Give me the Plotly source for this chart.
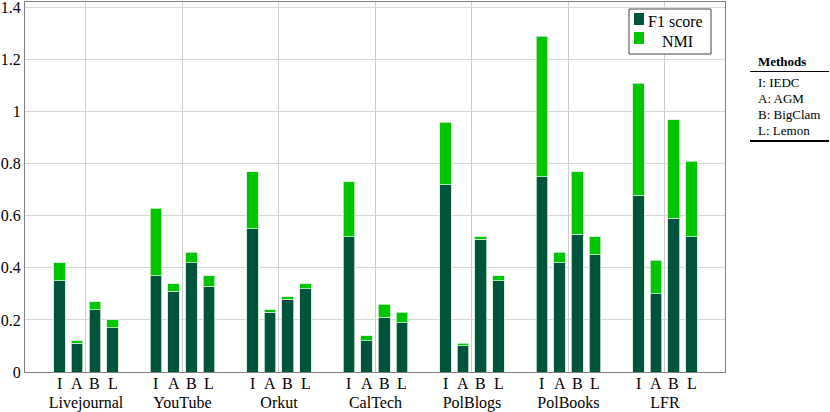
import plotly.graph_objects as go

# ---------------- data ----------------
datasets = ["Livejournal", "YouTube", "Orkut", "CalTech", "PolBlogs", "PolBooks", "LFR"]
method_letters = ["I", "A", "B", "L"]
method_names = ["I: IEDC", "A: AGM", "B: BigClam", "L: Lemon"]
series_names = ["F1 score", "NMI"]

f1_iedc = [0.35, 0.37, 0.55, 0.52, 0.72, 0.75, 0.68]
f1_agm = [0.11, 0.31, 0.23, 0.12, 0.10, 0.42, 0.30]
f1_bigclam = [0.24, 0.42, 0.28, 0.21, 0.51, 0.53, 0.59]
f1_lemon = [0.17, 0.33, 0.32, 0.19, 0.35, 0.45, 0.52]

nmi_iedc = [0.07, 0.26, 0.22, 0.21, 0.24, 0.54, 0.43]
nmi_agm = [0.01, 0.03, 0.01, 0.02, 0.01, 0.04, 0.13]
nmi_bigclam = [0.03, 0.04, 0.01, 0.05, 0.01, 0.24, 0.38]
nmi_lemon = [0.03, 0.04, 0.02, 0.04, 0.02, 0.07, 0.29]

y_ticks = [0, 0.2, 0.4, 0.6, 0.8, 1.0, 1.2, 1.4]
y_tick_labels = ["0", "0.2", "0.4", "0.6", "0.8", "1", "1.2", "1.4"]

# ---------------- style ----------------
FONT = "'Liberation Serif', 'DejaVu Serif', serif"
DARK = "#00543C"
LIGHT = "#00C600"
OUTLINE = "#cfeccf"
offsets = [-0.275, -0.0917, 0.0917, 0.275]
bar_w = 0.121

f1_all = [f1_iedc, f1_agm, f1_bigclam, f1_lemon]
nmi_all = [nmi_iedc, nmi_agm, nmi_bigclam, nmi_lemon]

xs, f1_vals, nmi_vals = [], [], []
for g in range(len(datasets)):
    for m in range(len(method_letters)):
        xs.append(g + offsets[m])
        f1_vals.append(f1_all[m][g])
        nmi_vals.append(nmi_all[m][g])

fig = go.Figure()
fig.add_trace(go.Bar(x=xs, y=f1_vals, width=bar_w, name=series_names[0],
                     marker=dict(color=DARK, line=dict(color=OUTLINE, width=0.8))))
fig.add_trace(go.Bar(x=xs, y=nmi_vals, width=bar_w, name=series_names[1],
                     marker=dict(color=LIGHT, line=dict(color=OUTLINE, width=0.8))))

# method letters under each bar
for g in range(len(datasets)):
    for m, letter in enumerate(method_letters):
        fig.add_annotation(x=g + offsets[m], y=0, xref="x", yref="paper",
                           text=letter, showarrow=False, yanchor="top", yshift=-1,
                           font=dict(family=FONT, size=16, color="#000"))

# pixel -> paper helpers
L_PX, R_PX, T_PX, B_PX = 25, 725, 2, 372
def px(xp):
    return (xp - L_PX) / (R_PX - L_PX)
def py(yp):
    return (B_PX - yp) / (B_PX - T_PX)

# legend box (drawn)
fig.add_shape(type="rect", xref="paper", yref="paper", x0=px(629), x1=px(711),
              y0=py(54), y1=py(9), line=dict(color="#444", width=1), fillcolor="white",
              layer="above")
fig.add_shape(type="rect", xref="paper", yref="paper", x0=px(634), x1=px(644),
              y0=py(25), y1=py(13), line=dict(width=0), fillcolor=DARK, layer="above")
fig.add_shape(type="rect", xref="paper", yref="paper", x0=px(634), x1=px(644),
              y0=py(44), y1=py(32), line=dict(width=0), fillcolor=LIGHT, layer="above")
fig.add_annotation(x=px(646), y=py(21), xref="paper", yref="paper", text=series_names[0],
                   showarrow=False, xanchor="left", yanchor="middle",
                   font=dict(family=FONT, size=16, color="#000"))
fig.add_annotation(x=px(677), y=py(41), xref="paper", yref="paper", text=series_names[1],
                   showarrow=False, xanchor="center", yanchor="middle",
                   font=dict(family=FONT, size=16, color="#000"))

# Methods table
fig.add_annotation(x=px(756), y=py(61), xref="paper", yref="paper", text="<b>Methods</b>",
                   showarrow=False, xanchor="left", yanchor="middle",
                   font=dict(family=FONT, size=13, color="#000"))
fig.add_shape(type="line", xref="paper", yref="paper", x0=px(750), x1=px(829),
              y0=py(71.5), y1=py(71.5), line=dict(color="#000", width=1))
for i, name in enumerate(method_names):
    fig.add_annotation(x=px(756), y=py(82 + 16 * i), xref="paper", yref="paper", text=name,
                       showarrow=False, xanchor="left", yanchor="middle",
                       font=dict(family=FONT, size=13, color="#000"))
fig.add_shape(type="line", xref="paper", yref="paper", x0=px(750), x1=px(829),
              y0=py(141), y1=py(141), line=dict(color="#000", width=2))

fig.update_layout(
    width=830, height=412,
    margin=dict(l=L_PX, r=830 - R_PX, t=T_PX, b=412 - B_PX, autoexpand=False),
    barmode="stack",
    plot_bgcolor="white", paper_bgcolor="white",
    font=dict(family=FONT, size=16, color="#000"),
    showlegend=False,
    xaxis=dict(range=[-0.632, 6.622], tickvals=list(range(len(datasets))),
               ticktext=datasets, showgrid=True, gridcolor="#cccccc", gridwidth=1,
               ticks="", ticklabelstandoff=16, zeroline=False, automargin=False,
               ticklabeloverflow="allow",
               showline=True, linecolor="#808080", linewidth=1.3, mirror=True,
               tickfont=dict(family=FONT, size=16)),
    yaxis=dict(range=[0, 1.4215], tickvals=y_ticks, ticktext=y_tick_labels,
               showgrid=True, gridcolor="#d6d6d6", gridwidth=1, zeroline=False,
               ticks="", showline=True, linecolor="#808080", linewidth=1.3, mirror=True,
               automargin=False, ticklabeloverflow="allow",
               tickfont=dict(family=FONT, size=16)),
)

fig.write_html("out.html", config={"displayModeBar": False},
               post_script="document.body.style.margin='0';document.body.style.overflow='hidden';")
